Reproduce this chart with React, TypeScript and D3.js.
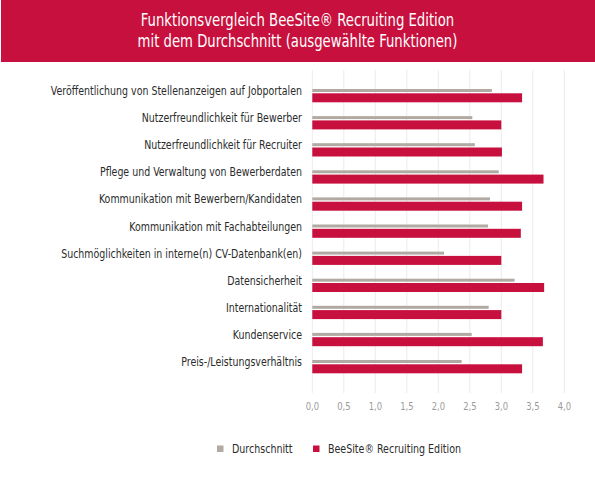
import { useEffect, useRef } from 'react';
import * as d3 from 'd3';

const categories = [
  'Veröffentlichung von Stellenanzeigen auf Jobportalen',
  'Nutzerfreundlichkeit für Bewerber',
  'Nutzerfreundlichkeit für Recruiter',
  'Pflege und Verwaltung von Bewerberdaten',
  'Kommunikation mit Bewerbern/Kandidaten',
  'Kommunikation mit Fachabteilungen',
  'Suchmöglichkeiten in interne(n) CV-Datenbank(en)',
  'Datensicherheit',
  'Internationalität',
  'Kundenservice',
  'Preis-/Leistungsverhältnis',
];
const averageValues = [2.85, 2.54, 2.58, 2.96, 2.82, 2.79, 2.09, 3.21, 2.8, 2.53, 2.37];
const beeSiteValues = [3.33, 3.0, 3.01, 3.67, 3.33, 3.31, 3.0, 3.68, 3.0, 3.66, 3.33];
const xTicks = [0, 0.5, 1, 1.5, 2, 2.5, 3, 3.5, 4];
const seriesNames = ['Durchschnitt', 'BeeSite® Recruiting Edition'];
const titleLines = ['Funktionsvergleich BeeSite® Recruiting Edition', 'mit dem Durchschnitt (ausgewählte Funktionen)'];

const RED = '#c8103e';
const GREY = '#b1aaa2';
const NARROW = "'DejaVu Sans Condensed', 'DejaVu Sans', sans-serif";

export default function App() {
  const svgRef = useRef<SVGSVGElement>(null);

  useEffect(() => {
    if (!svgRef.current) return;
    const svg = d3.select(svgRef.current);
    svg.selectAll('*').remove();

    const W = 595, H = 477;
    svg.append('rect').attr('width', W).attr('height', H).attr('fill', '#fff');

    // title banner (text squeezed horizontally to mimic a condensed face)
    svg.append('rect').attr('x', 1).attr('y', 0).attr('width', W - 1).attr('height', 62).attr('fill', RED);
    svg.append('g').selectAll('text').data(titleLines).enter().append('text')
      .attr('transform', (_, i) => `translate(${W / 2},${26 + i * 21}) scale(0.84,1)`)
      .attr('text-anchor', 'middle')
      .attr('fill', '#fff').attr('font-size', '17.5px').attr('font-family', NARROW)
      .text(d => d);

    const x = d3.scaleLinear().domain([0, 4]).range([312.3, 564.3]);
    const y = d3.scaleBand<string>().domain(categories).range([84, 84 + 27.1 * categories.length]);

    // grid
    svg.append('g').selectAll('line').data(xTicks).enter().append('line')
      .attr('x1', d => x(d)).attr('x2', d => x(d)).attr('y1', 70).attr('y2', 393)
      .attr('stroke', '#ebebeb').attr('stroke-width', 1);

    // tick labels
    svg.append('g').selectAll('text').data(xTicks).enter().append('text')
      .attr('transform', d => `translate(${x(d)},410) scale(0.85,1)`)
      .attr('text-anchor', 'middle')
      .attr('fill', '#9a9a9a').attr('font-size', '11px').attr('font-family', NARROW)
      .text(d => d3.format('.1f')(d).replace('.', ','));

    // average bars
    svg.append('g').selectAll('rect').data(averageValues).enter().append('rect')
      .attr('x', x(0)).attr('y', (_, i) => (y(categories[i]) ?? 0) + 5)
      .attr('width', d => x(d) - x(0)).attr('height', 3)
      .attr('fill', GREY);

    // BeeSite bars
    svg.append('g').selectAll('rect').data(beeSiteValues).enter().append('rect')
      .attr('x', x(0)).attr('y', (_, i) => (y(categories[i]) ?? 0) + 9.3)
      .attr('width', d => x(d) - x(0)).attr('height', 9)
      .attr('fill', RED);

    // category labels
    svg.append('g').selectAll('text').data(categories).enter().append('text')
      .attr('transform', d => `translate(302,${(y(d) ?? 0) + 11}) scale(0.84,1)`)
      .attr('text-anchor', 'end')
      .attr('fill', '#2b2b2b').attr('font-size', '12.5px').attr('font-family', NARROW)
      .text(d => d);

    // legend
    const legendX = [217, 313];
    const legend = svg.append('g');
    seriesNames.forEach((name, i) => {
      legend.append('rect').attr('x', legendX[i]).attr('y', 445.5).attr('width', 6.5).attr('height', 6.5)
        .attr('fill', i === 0 ? GREY : RED);
      legend.append('text').attr('transform', `translate(${legendX[i] + 15},453) scale(0.88,1)`)
        .attr('fill', '#2b2b2b')
        .attr('font-size', '12px').attr('font-family', NARROW)
        .text(name);
    });
  }, []);

  return (
    <div style={{ position: 'absolute', left: 0, top: 0 }}>
      <svg ref={svgRef} width={595} height={477} style={{ display: 'block' }} />
    </div>
  );
}
